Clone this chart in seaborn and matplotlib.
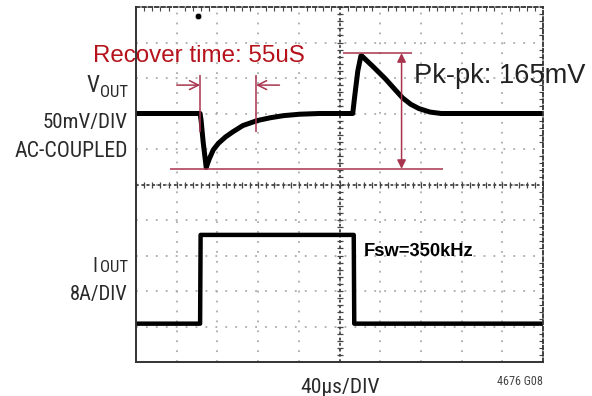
import numpy as np
import matplotlib.pyplot as plt
import seaborn as sns

# scope settings
us_per_div = 40
mv_per_div = 50
a_per_div = 8
vout_zero_div = 7.0
iout_zero_div = 1.08

# Vout transient (us, mV, AC coupled)
vout_t = [0, 63, 64, 66, 69, 72, 76, 81, 88, 95, 105, 119, 132, 145, 161, 180,
          213, 215, 218, 221, 222, 233, 245, 255, 262, 270, 278, 289, 300, 400]
vout_mv = [0, 0, -10, -40, -76, -64, -51, -42, -33, -26, -17, -10, -6, -3, -1, 0,
           0, 25, 60, 81, 81, 66, 49, 33, 22, 13, 7, 2, 0, 0]

# load current step (us, A)
iout_t = [0, 63, 63.5, 214, 214.5, 400]
iout_a = [0, 0, 20, 20, 0, 0]

# measurement markers
step_up_t = 63
recover_us = 55
recover_mark_mv = [-26, 54]
recover_arrow_mv = 40
recover_arrow_len = 23
pk_hi_mv = 85
pk_lo_mv = -78
pk_lo_span = [33, 302]
pk_hi_span = [203, 271]
pkpk_arrow_t = 261
trigger_t = 61

RED_TXT = "#b5121b"
RED_LN = "#a8344e"
INK = "#2a2a2a"
NARROW = ["Roboto Condensed", "DejaVu Sans Condensed", "Liberation Sans Narrow",
          "Noto Sans CJK JP", "DejaVu Sans"]

sns.set_style("white")

W, H = 592, 396
fig = plt.figure(figsize=(W / 100, H / 100), dpi=100)
ax = fig.add_axes([136 / W, 34 / H, 407 / W, 355 / H])
renderer = fig.canvas.get_renderer()


def mv(v):
    return vout_zero_div + np.asarray(v, dtype=float) / mv_per_div


def label(x, y, s, width, **kw):
    # place text by pixel position and size it to the width seen in the scope shot
    t = fig.text(x / W, 1 - y / H, s, va="baseline", fontsize=12, **kw)
    w = t.get_window_extent(renderer).width
    t.set_fontsize(12 * width / w)
    return t


ax.set_xlim(0, 10 * us_per_div)
ax.set_ylim(0, 10)
ax.set_xticks(np.arange(0, 401, us_per_div))
ax.set_yticks(np.arange(0, 11, 1))
ax.set_xticks(np.arange(0, 401, us_per_div / 5), minor=True)
ax.set_yticks(np.arange(0, 10.01, 0.2), minor=True)
ax.tick_params(which="major", length=0, labelbottom=False, labelleft=False)
ax.tick_params(which="minor", direction="in", length=3, width=0.8, color="#444",
               top=True, right=True)
ax.grid(True, which="major", ls=(0, (1, 4.5)), lw=1.3, color="#aaaaaa")
for side in ["left", "bottom"]:
    ax.spines[side].set(color="#333", lw=1.4)
for side in ["top", "right"]:
    ax.spines[side].set(color="#333", lw=1.3, ls=(0, (2, 1.5)))

# center graticule lines
ax.axhline(5, color="#444", lw=1.3, ls=(0, (1.5, 1.5)))
ax.axvline(200, color="#444", lw=1.3, ls=(0, (1.5, 1.5)))
ax.plot(np.arange(0, 401, 8), np.full(51, 5.0), ls="none", marker="|", ms=5, mew=0.9, color="#444")
ax.plot(np.full(51, 200.0), np.arange(0, 10.01, 0.2), ls="none", marker="_", ms=5, mew=0.9, color="#444")

# traces
sns.lineplot(x=vout_t, y=mv(vout_mv), estimator=None, sort=False, color="black", lw=3.6, ax=ax)
sns.lineplot(x=iout_t, y=iout_zero_div + np.array(iout_a) / a_per_div, estimator=None, sort=False,
             color="black", lw=3.2, ax=ax)
sns.scatterplot(x=[trigger_t], y=[9.75], color="black", s=22, ax=ax)

# recovery time markers
ax.vlines([step_up_t, step_up_t + recover_us], mv(recover_mark_mv[0]), mv(recover_mark_mv[1]),
          color=RED_LN, lw=1.1)
arrow_kw = dict(arrowstyle="->", color=RED_LN, lw=1.1, mutation_scale=16, shrinkA=0, shrinkB=0)
ax.annotate("", xy=(step_up_t, mv(recover_arrow_mv)),
            xytext=(step_up_t - recover_arrow_len, mv(recover_arrow_mv)), arrowprops=arrow_kw)
ax.annotate("", xy=(step_up_t + recover_us, mv(recover_arrow_mv)),
            xytext=(step_up_t + recover_us + recover_arrow_len, mv(recover_arrow_mv)), arrowprops=arrow_kw)

# peak-to-peak markers
ax.hlines(mv(pk_lo_mv), *pk_lo_span, color=RED_LN, lw=1.1)
ax.hlines(mv(pk_hi_mv), *pk_hi_span, color=RED_LN, lw=1.1)
ax.annotate("", xy=(pkpk_arrow_t, mv(pk_lo_mv)), xytext=(pkpk_arrow_t, mv(pk_hi_mv)),
            arrowprops=dict(arrowstyle="<|-|>", color=RED_LN, lw=1.1, mutation_scale=13,
                            shrinkA=0, shrinkB=0))

# labels
label(93, 62, "Recover time: 55uS", 212, color=RED_TXT, family="Liberation Sans")
label(414, 83, "Pk-pk: 165mV", 171, color="#222", family="Liberation Sans")
label(364, 256, "Fsw=350kHz", 109, color="black", family="Liberation Sans", fontweight="bold")

label(100, 92, "V", 13, color=INK, family=NARROW, ha="right")
label(128, 97, "OUT", 28, color=INK, family=NARROW, ha="right")
label(128, 128, "50mV/DIV", 85, color=INK, family=NARROW, ha="right")
label(128, 157, "AC-COUPLED", 113, color=INK, family=NARROW, ha="right")
label(97, 272, "I", 5, color=INK, family=NARROW, ha="right")
label(128, 272, "OUT", 28, color=INK, family=NARROW, ha="right")
label(128, 300, "8A/DIV", 58, color=INK, family=NARROW, ha="right")
label(300, 393, "40µs/DIV", 79, color=INK, family=NARROW, ha="left")
label(543, 385, "4676 G08", 46, color="#444", family=NARROW, ha="right")

fig.savefig("out.png", dpi=100)
